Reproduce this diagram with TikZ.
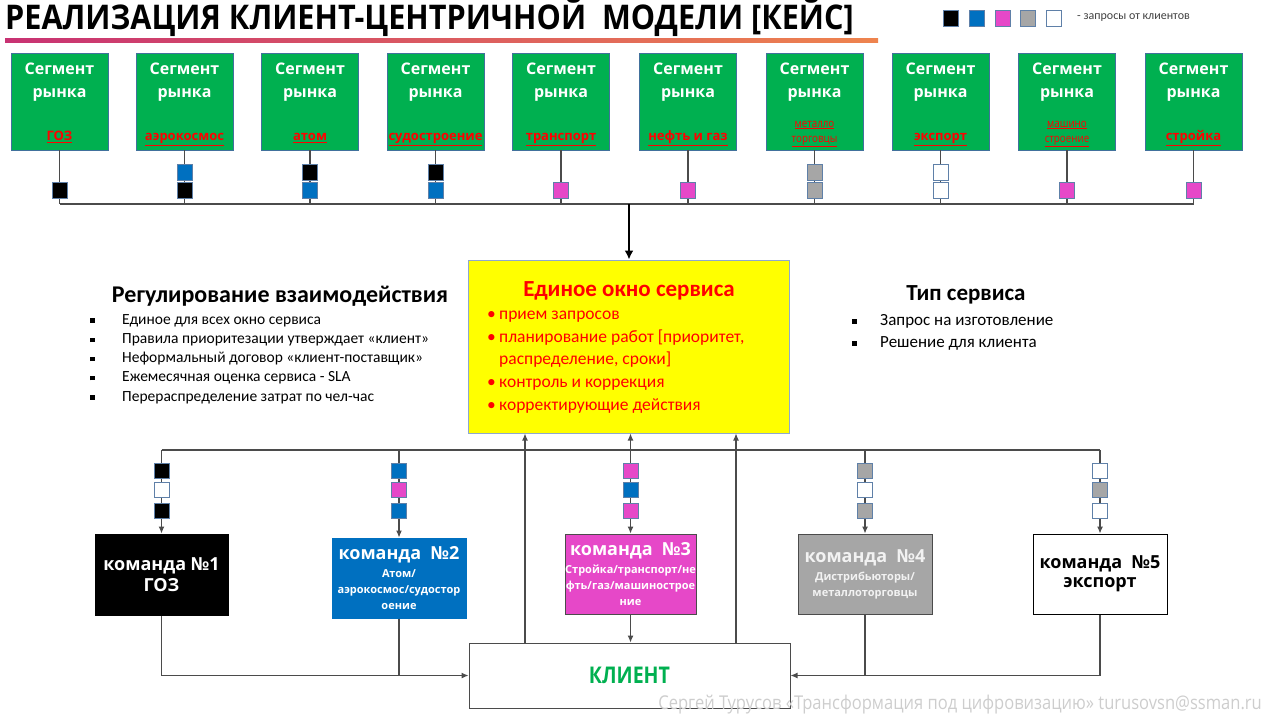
\documentclass[tikz,border=0pt]{standalone}
\usepackage{fontspec}
\setmainfont{Carlito}
\newfontfamily\osfont{Open Sans}
\newfontfamily\osnarrow[FakeStretch=0.85]{Open Sans}
\newfontfamily\ostitle[FakeStretch=0.9]{Open Sans}
\newfontfamily\osfoot[FakeStretch=0.87]{Open Sans}
\usetikzlibrary{arrows.meta}

\definecolor{seggreen}{RGB}{0,176,80}
\definecolor{segedge}{RGB}{65,113,156}
\definecolor{labred}{RGB}{255,0,0}
\definecolor{qedge}{RGB}{95,128,168}
\definecolor{qblue}{RGB}{0,112,192}
\definecolor{qpink}{RGB}{230,72,200}
\definecolor{qgray}{RGB}{166,166,166}
\definecolor{winyellow}{RGB}{255,255,0}
\definecolor{winedge}{RGB}{143,168,205}
\definecolor{wiregray}{RGB}{75,75,75}
\definecolor{footgray}{RGB}{205,205,205}
\definecolor{legtext}{RGB}{64,64,64}
\definecolor{barleft}{RGB}{200,50,115}
\definecolor{barright}{RGB}{238,132,78}

\newcommand{\sqbul}{\raisebox{1.5pt}{\rule{4.5pt}{4.5pt}}}
\newcommand{\teamhead}[1]{{\osfont\bfseries\fontsize{18}{22}\selectfont #1}}

\begin{document}
\begin{tikzpicture}[x=1pt, y=-1pt,
	seg/.style={draw=segedge, fill=seggreen, line width=0.8pt, minimum width=97pt, minimum height=97pt, inner sep=0pt},
	segtxt/.style={text=white, font=\osfont\bfseries\fontsize{16}{23}\selectfont, align=center, inner sep=0pt},
	seglab/.style={text=labred, font=\osfont\bfseries\fontsize{13}{16}\selectfont, inner sep=0pt},
	seglabs/.style={text=labred, font=\osnarrow\fontsize{11.5}{15.5}\selectfont, align=center, inner sep=0pt},
	req/.style={draw=qedge, line width=0.9pt, minimum width=15pt, minimum height=16pt, inner sep=0pt},
	wire/.style={wiregray, line width=1.1pt},
	arr/.style={wire, -{Latex[length=7pt, width=6pt]}},
	team/.style={line width=1pt, minimum width=134pt, minimum height=81pt, inner sep=0pt, align=center, font=\osfont\bfseries\fontsize{11}{16}\selectfont},
	]

	\useasboundingbox (0,0) rectangle (1271,715);

	% title
	\node[anchor=base west, inner sep=0pt, font=\ostitle\bfseries\fontsize{34}{38}\selectfont] (title) at (5,29) {РЕАЛИЗАЦИЯ КЛИЕНТ-ЦЕНТРИЧНОЙ\ \ МОДЕЛИ [КЕЙС]};
	\shade[left color=barleft, right color=barright] (5,38) rectangle (878,42); % bar

	% legend
	\node[req, minimum height=16pt, fill=black] (lg1) at (951,18) {};
	\node[req, minimum height=16pt, fill=qblue] (lg2) at (977,18) {};
	\node[req, minimum height=16pt, fill=qpink] (lg3) at (1003,18) {};
	\node[req, minimum height=16pt, fill=qgray] (lg4) at (1028,18) {};
	\node[req, minimum height=16pt, fill=white] (lg5) at (1053.5,18) {};
	\node[anchor=west, inner sep=0pt, text=legtext, font=\fontsize{12}{14}\selectfont] (lgtxt) at (1077,18) {- запросы от клиентов};

	% market segments
	\node[seg] (s1) at (59.5,101.5) {};
	\node[seg] (s2) at (184.5,101.5) {};
	\node[seg] (s3) at (310,101.5) {};
	\node[seg] (s4) at (435.5,101.5) {};
	\node[seg] (s5) at (561,101.5) {};
	\node[seg] (s6) at (688,101.5) {};
	\node[seg] (s7) at (814.5,101.5) {};
	\node[seg] (s8) at (940.5,101.5) {};
	\node[seg] (s9) at (1067,101.5) {};
	\node[seg] (s10) at (1193.5,101.5) {};

	\node[segtxt] (s1t) at (59.5,82) {Сегмент\\рынка};
	\node[segtxt] (s2t) at (184.5,82) {Сегмент\\рынка};
	\node[segtxt] (s3t) at (310,82) {Сегмент\\рынка};
	\node[segtxt] (s4t) at (435.5,82) {Сегмент\\рынка};
	\node[segtxt] (s5t) at (561,82) {Сегмент\\рынка};
	\node[segtxt] (s6t) at (688,82) {Сегмент\\рынка};
	\node[segtxt] (s7t) at (814.5,82) {Сегмент\\рынка};
	\node[segtxt] (s8t) at (940.5,82) {Сегмент\\рынка};
	\node[segtxt] (s9t) at (1067,82) {Сегмент\\рынка};
	\node[segtxt] (s10t) at (1193.5,82) {Сегмент\\рынка};

	\node[seglab, anchor=base] (s1l) at (59.5,140.5) {\underline{ГОЗ}};
	\node[seglab, anchor=base] (s2l) at (184.5,140.5) {\underline{аэрокосмос}};
	\node[seglab, anchor=base] (s3l) at (310,140.5) {\underline{атом}};
	\node[seglab, anchor=base] (s4l) at (435.5,140.5) {\underline{судостроение}};
	\node[seglab, anchor=base] (s5l) at (561,140.5) {\underline{транспорт}};
	\node[seglab, anchor=base] (s6l) at (688,140.5) {\underline{нефть и газ}};
	\node[seglabs] (s7l) at (814.5,134) {\underline{металло}\\\underline{торговцы}};
	\node[seglab, anchor=base] (s8l) at (940.5,140.5) {\underline{экспорт}};
	\node[seglabs] (s9l) at (1067,134) {\underline{машино}\\\underline{строение}};
	\node[seglab, anchor=base] (s10l) at (1193.5,140.5) {\underline{стройка}};

	% upper bus
	\coordinate (b1) at (59.5,204);
	\coordinate (b2) at (184.5,204);
	\coordinate (b3) at (310,204);
	\coordinate (b4) at (435.5,204);
	\coordinate (b5) at (561,204);
	\coordinate (b6) at (688,204);
	\coordinate (b7) at (814.5,204);
	\coordinate (b8) at (940.5,204);
	\coordinate (b9) at (1067,204);
	\coordinate (b10) at (1193.5,204);
	\coordinate (hub) at (629,204);

	\draw[wire] (s1.south) -- (b1);
	\draw[wire] (s2.south) -- (b2);
	\draw[wire] (s3.south) -- (b3);
	\draw[wire] (s4.south) -- (b4);
	\draw[wire] (s5.south) -- (b5);
	\draw[wire] (s6.south) -- (b6);
	\draw[wire] (s7.south) -- (b7);
	\draw[wire] (s8.south) -- (b8);
	\draw[wire] (s9.south) -- (b9);
	\draw[wire] (s10.south) -- (b10);
	\draw[wire] (b1) -- (b10); % bus

	% requests of the segments
	\node[req, fill=black] (r1a) at (59.5,190.5) {};
	\node[req, fill=qblue] (r2b) at (184.5,172) {};
	\node[req, fill=black] (r2a) at (184.5,190.5) {};
	\node[req, fill=black] (r3b) at (310,172) {};
	\node[req, fill=qblue] (r3a) at (310,190.5) {};
	\node[req, fill=black] (r4b) at (435.5,172) {};
	\node[req, fill=qblue] (r4a) at (435.5,190.5) {};
	\node[req, fill=qpink] (r5a) at (561,190.5) {};
	\node[req, fill=qpink] (r6a) at (688,190.5) {};
	\node[req, fill=qgray] (r7b) at (814.5,172) {};
	\node[req, fill=qgray] (r7a) at (814.5,190.5) {};
	\node[req, fill=white] (r8b) at (940.5,172) {};
	\node[req, fill=white] (r8a) at (940.5,190.5) {};
	\node[req, fill=qpink] (r9a) at (1067,190.5) {};
	\node[req, fill=qpink] (r10a) at (1193.5,190.5) {};

	% service window
	\node[draw=winedge, fill=winyellow, line width=1pt, minimum width=321pt, minimum height=173pt] (win) at (629,346.5) {};
	\draw[black, line width=2.6pt, -{Latex[length=9pt, width=9pt]}] (hub) -- (win.north);
	\node[text=labred, font=\bfseries\fontsize{23}{27}\selectfont, inner sep=0pt] (winh) at (629,291) {Единое окно сервиса};
	\node[anchor=west, align=left, text=labred, inner sep=0pt, font=\fontsize{17.5}{22.6}\selectfont] (winl) at (487,362) {\makebox[12pt][l]{•}прием запросов\\
		\makebox[12pt][l]{•}планирование работ [приоритет,\\
		\hspace*{12pt}распределение, сроки]\\
		\makebox[12pt][l]{•}контроль и коррекция\\
		\makebox[12pt][l]{•}корректирующие действия};

	% side texts
	\node[font=\bfseries\fontsize{24}{28}\selectfont, inner sep=0pt] (regh) at (280,296) {Регулирование взаимодействия};
	\node[anchor=west, align=left, inner sep=0pt, font=\fontsize{15.5}{19.2}\selectfont] (regl) at (90,359) {\makebox[32pt][l]{\sqbul}Единое для всех окно сервиса\\
		\makebox[32pt][l]{\sqbul}Правила приоритезации утверждает «клиент»\\
		\makebox[32pt][l]{\sqbul}Неформальный договор «клиент-поставщик»\\
		\makebox[32pt][l]{\sqbul}Ежемесячная оценка сервиса - SLA\\
		\makebox[32pt][l]{\sqbul}Перераспределение затрат по чел-час};
	\node[font=\bfseries\fontsize{23}{27}\selectfont, inner sep=0pt] (typh) at (966,295) {Тип сервиса};
	\node[anchor=west, align=left, inner sep=0pt, font=\fontsize{17}{22}\selectfont] (typl) at (852,332) {\makebox[28pt][l]{\sqbul}Запрос на изготовление\\
		\makebox[28pt][l]{\sqbul}Решение для клиента};

	% teams
	\node[team, draw=black, fill=black, text=white, minimum width=133pt] (t1) at (161.5,574.5) {\teamhead{команда №1}\\[3pt]\teamhead{ГОЗ}};
	\node[team, draw=qblue, fill=qblue, text=white, minimum height=80pt] (t2) at (399,578) {\teamhead{команда\ \ №2}\\[2pt]Атом/\\аэрокосмос/судостор\\оение};
	\node[team, draw=wiregray, fill=qpink, text=white, minimum width=131pt, minimum height=80pt] (t3) at (630.5,574) {\teamhead{команда\ \ №3}\\[2pt]Стройка/транспорт/не\\фть/газ/машинострое\\ние};
	\node[team, draw=wiregray, fill=qgray, text=white!95!black, minimum height=80pt] (t4) at (865,574) {\teamhead{команда\ \ №4}\\[2pt]Дистрибьюторы/\\металлоторговцы};
	\node[team, draw=black, fill=white, text=black, minimum height=80pt] (t5) at (1100,574) {\teamhead{команда\ \ №5}\\[3pt]\teamhead{экспорт}};

	% client
	\node[draw=wiregray, fill=white, line width=1pt, minimum width=321pt, minimum height=65pt, text=seggreen, font=\osnarrow\bfseries\fontsize{23}{26}\selectfont] (cl) at (629.5,675.5) {КЛИЕНТ};

	% lower bus
	\coordinate (d1) at (161.5,450);
	\coordinate (d2) at (399,450);
	\coordinate (d3) at (630.5,450);
	\coordinate (d4) at (865,450);
	\coordinate (d5) at (1100,450);
	\coordinate (upl) at (525,643);
	\coordinate (upr) at (736,643);

	\draw[wire] (d1) -- (d5); % bus
	\draw[arr] (d1) -- (t1.north);
	\draw[arr] (d2) -- (t2.north);
	\draw[arr] (d3) -- (t3.north);
	\draw[arr] (d4) -- (t4.north);
	\draw[arr] (d5) -- (t5.north);
	\draw[arr] (d3) -- (d3 |- win.south); % middle
	\draw[arr] (upl) -- (upl |- win.south); % left
	\draw[arr] (upr) -- (upr |- win.south); % right

	% to the client
	\draw[arr] (t1.south) |- (cl.west);
	\draw[wire] (t2.south) -- (t2.south |- cl.west);
	\draw[arr] (t3.south) -- (t3.south |- cl.north);
	\draw[wire] (t4.south) -- (t4.south |- cl.east);
	\draw[arr] (t5.south) |- (cl.east);

	% requests of the teams
	\node[req, minimum height=15pt, fill=black] (q1a) at (161.5,470.5) {};
	\node[req, minimum height=15pt, fill=white] (q1b) at (161.5,489.5) {};
	\node[req, minimum height=15pt, fill=black] (q1c) at (161.5,510.5) {};
	\node[req, minimum height=15pt, fill=qblue] (q2a) at (399,470.5) {};
	\node[req, minimum height=15pt, fill=qpink] (q2b) at (399,489.5) {};
	\node[req, minimum height=15pt, fill=qblue] (q2c) at (399,510.5) {};
	\node[req, minimum height=15pt, fill=qpink] (q3a) at (630.5,470.5) {};
	\node[req, minimum height=15pt, fill=qblue] (q3b) at (630.5,489.5) {};
	\node[req, minimum height=15pt, fill=qpink] (q3c) at (630.5,510.5) {};
	\node[req, minimum height=15pt, fill=qgray] (q4a) at (865,470.5) {};
	\node[req, minimum height=15pt, fill=white] (q4b) at (865,489.5) {};
	\node[req, minimum height=15pt, fill=qgray] (q4c) at (865,510.5) {};
	\node[req, minimum height=15pt, fill=white] (q5a) at (1100,470.5) {};
	\node[req, minimum height=15pt, fill=qgray] (q5b) at (1100,489.5) {};
	\node[req, minimum height=15pt, fill=white] (q5c) at (1100,510.5) {};

	% credits
	\node[anchor=base east, inner sep=0pt, text=footgray, font=\osfoot\fontsize{19}{21}\selectfont] (credit) at (1262,709) {Сергей Турусов «Трансформация под цифровизацию» turusovsn@ssman.ru};

\end{tikzpicture}
\end{document}
